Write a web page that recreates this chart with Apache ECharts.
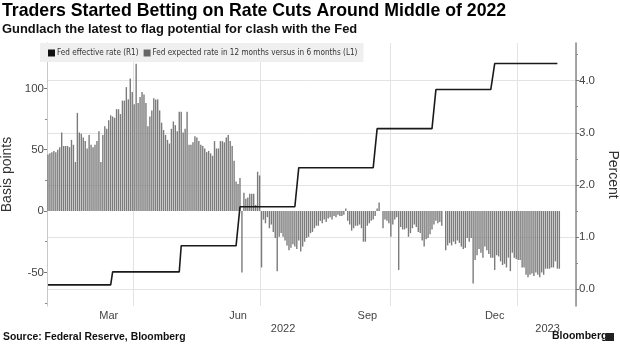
<!DOCTYPE html>
<html><head><meta charset="utf-8">
<script src="https://cdn.jsdelivr.net/npm/echarts@6/dist/echarts.min.js"></script>
<style>html,body{margin:0;padding:0;background:#fff}#c{width:620px;height:348px}</style>
</head><body><div id="c"></div>
<script>
// ---- data ----
const startDate = '2022-01-31';
const categoryCount = 270; // business days shown on the axis
const spreadValues = [
  46,47,48,49,48,50,52,64,53,53,
  53,52,58,54,40,80,64,63,60,57,
  51,62,54,52,54,57,65,40,62,69,
  67,74,78,77,76,83,83,79,90,90,
  101,91,108,97,87,120,88,93,97,95,
  88,69,77,82,92,91,91,82,72,66,
  62,58,55,67,73,70,65,81,81,64,
  67,81,54,54,56,61,60,57,54,53,
  51,48,49,47,45,57,51,51,57,57,
  56,60,62,57,53,
  41,24,22,27,
  -50,15,10,11,14,14,14,5,32,29,
  -46,-7,-10,-5,-14,-11,-17,-22,
  -49,
  -21,-18,-21,-24,-28,-32,-30,-27,-29,-31,
  -24,-33,-29,-25,-22,-21,-18,-17,-14,-12,
  -12,-8,-10,-7,-9,-6,-5,-7,-4,-5,
  -3,-4,-4,-3,2,-8,-11,-16,-14,-12,
  -12,-11,-14,-25,-25,-12,-10,-8,-7,-4,
  2,7,0,-14,-7,-8,-10,-21,-11,-7,-5,
  -48,
  -13,-15,-15,-14,-21,-18,-14,-11,-13,-17,
  -18,-24,-29,-23,-22,-19,-15,-11,-8,-10,
  -9,-12,null,-32,-28,-26,-28,-25,-27,-24,
  -26,-29,-31,-30,-22,-25,-22,
  -59,
  -40,-36,-31,-34,-38,-29,-32,-35,-38,-38,
  -48,-36,-37,-41,-44,-43,-46,-38,-49,-34,
  -38,-39,-40,-40,-46,-46,-52,-54,-52,-51,
  -53,-50,-52,-54,-50,-52,-47,-47,-47,-46,
  -46,-41,-47,-47
];
const rateChangeDates = ['2022-01-31','2022-03-17','2022-05-05','2022-06-16','2022-07-28','2022-09-22','2022-11-03','2022-12-15'];
const rateLevels = [0.08,0.33,0.83,1.58,2.33,3.08,3.83,4.33];
const rateEndDate = '2023-01-30';
const monthLabelDates = ['2022-03-15','2022-06-15','2022-09-15','2022-12-15'];
const monthLabelTexts = ['Mar','Jun','Sep','Dec'];
const quarterStartMonths = [4,7,10,1];
const leftTicks = [-50,0,50,100];
const leftMinorTicks = [-75,-25,25,75,125];
const rightTicks = [0,1,2,3,4];
const rightMinorTicks = [0.5,1.5,2.5,3.5,4.5];
const leftRange = [-77.4, 136.95];
const rightRange = [-0.326, 4.724];

// ---- build ----
function buildBusinessDays(start, count){
  const out=[]; const d=new Date(start+'T00:00:00Z');
  while(out.length<count){
    const wd=d.getUTCDay();
    if(wd!==0&&wd!==6) out.push(d.toISOString().slice(0,10));
    d.setUTCDate(d.getUTCDate()+1);
  }
  return out;
}
const categories = buildBusinessDays(startDate, categoryCount);
const barData = categories.map((c,i)=> i<spreadValues.length ? spreadValues[i] : null);
const rateData = categories.map(c=>{
  if(c>rateEndDate) return null;
  let v=null;
  for(let i=0;i<rateChangeDates.length;i++) if(c>=rateChangeDates[i]) v=rateLevels[i];
  return v;
});
const quarterIdx = new Set();
categories.forEach((c,i)=>{
  if(i===0) return;
  const m=+c.slice(5,7), pm=+categories[i-1].slice(5,7);
  if(m!==pm && quarterStartMonths.indexOf(m)>=0) quarterIdx.add(i);
});
const monthMap = {};
monthLabelDates.forEach((d,i)=>monthMap[d]=monthLabelTexts[i]);
// year labels centred on each year's visible span
const yearCenters = {};
(function(){
  const spans={};
  categories.forEach((c,i)=>{const y=c.slice(0,4); if(!spans[y]) spans[y]=[i,i]; spans[y][1]=i+1;});
  Object.keys(spans).forEach(y=>{yearCenters[Math.round((spans[y][0]+spans[y][1])/2 - 0.5)] = y;});
})();

const sans = '"Liberation Sans", Arial, sans-serif';
const narrow = '"DejaVu Sans Condensed", "Liberation Sans", sans-serif';
const gridColor = '#e3e3e3';

const chart = echarts.init(document.getElementById('c'), null, {renderer:'canvas'});
chart.setOption({
  animation:false,
  backgroundColor:'#fff',
  grid:{left:47, right:44, top:43, bottom:42, containLabel:false, outerBoundsMode:'none'},
  legend:{
    left:40, top:43, orient:'horizontal',
    backgroundColor:'#efefef', padding:[6,6,5,8],
    icon:'rect', itemWidth:7, itemHeight:7, itemGap:5,
    textStyle:{fontFamily:narrow, fontSize:8.1, color:'#333', padding:[0,0,0,-3]},
    data:[
      {name:'Fed effective rate (R1)', itemStyle:{color:'#111'}},
      {name:'Fed expected rate in 12 months versus in 6 months (L1)', itemStyle:{color:'#666'}}
    ]
  },
  xAxis:[{
    type:'category', data:categories, boundaryGap:true,
    axisLine:{show:false}, axisTick:{show:false},
    axisLabel:{interval:(i,v)=>monthMap[v]!==undefined, formatter:v=>monthMap[v]||'',
      color:'#444', fontFamily:sans, fontSize:11, margin:4},
    splitLine:{show:true, interval:(i)=>quarterIdx.has(i), lineStyle:{color:gridColor, width:1}}
  },{
    type:'category', data:categories, boundaryGap:true, position:'bottom', offset:13,
    axisLine:{show:false}, axisTick:{show:false}, splitLine:{show:false},
    axisLabel:{interval:(i)=>yearCenters[i]!==undefined, formatter:(v,i)=>yearCenters[i]||'',
      color:'#444', fontFamily:sans, fontSize:11, margin:4}
  }],
  yAxis:[{
    type:'value', position:'left', min:leftRange[0], max:leftRange[1],
    name:'Basis points', nameLocation:'middle', nameGap:27, nameRotate:90,
    nameTextStyle:{fontFamily:sans, fontSize:14, color:'#333'},
    axisLine:{show:true, lineStyle:{color:'#c8c8c8', width:1}},
    axisTick:{show:true, length:3, customValues:leftTicks, lineStyle:{color:'#777'}},
    axisLabel:{customValues:leftTicks, color:'#444', fontFamily:sans, fontSize:11.5, margin:3},
    splitLine:{show:false}
  },{
    type:'value', position:'right', min:rightRange[0], max:rightRange[1],
    name:'Percent', nameLocation:'middle', nameGap:26, nameRotate:-90,
    nameTextStyle:{fontFamily:sans, fontSize:14, color:'#333'},
    axisLine:{show:true, lineStyle:{color:'#8a8a8a', width:1.5}},
    axisTick:{show:true, length:3, customValues:rightTicks, lineStyle:{color:'#777'}},
    axisLabel:{customValues:rightTicks, formatter:v=>v.toFixed(1), color:'#444', fontFamily:sans, fontSize:11.5, margin:3},
    splitLine:{show:true, lineStyle:{color:gridColor, width:1}}
  },{
    type:'value', position:'right', min:rightRange[0], max:rightRange[1],
    axisLine:{show:false}, axisLabel:{show:false}, splitLine:{show:false},
    axisTick:{show:true, length:2, customValues:rightMinorTicks, lineStyle:{color:'#888'}}
  },{
    type:'value', position:'left', min:leftRange[0], max:leftRange[1],
    axisLine:{show:false}, axisLabel:{show:false}, splitLine:{show:false},
    axisTick:{show:true, length:2, customValues:leftMinorTicks, lineStyle:{color:'#888'}}
  }],
  series:[{
    name:'Fed expected rate in 12 months versus in 6 months (L1)', type:'bar',
    xAxisIndex:0, yAxisIndex:0, data:barData, barWidth:1.4,
    itemStyle:{color:'#7b7b7b'}, z:2
  },{
    name:'Fed effective rate (R1)', type:'line',
    xAxisIndex:0, yAxisIndex:1, data:rateData, showSymbol:false, symbol:'none',
    lineStyle:{color:'#1a1a1a', width:1.6}, itemStyle:{color:'#111'}, z:3
  }],
  graphic:[
    {type:'text', left:2, top:2, style:{text:'Traders Started Betting on Rate Cuts Around Middle of 2022', fontFamily:sans, fontSize:17.7, fontWeight:'bold', fill:'#000'}},
    {type:'text', left:2, top:23, style:{text:'Gundlach the latest to flag potential for clash with the Fed', fontFamily:sans, fontSize:12.9, fontWeight:'bold', fill:'#111'}},
    {type:'text', left:3, top:332, style:{text:'Source: Federal Reserve, Bloomberg', fontFamily:sans, fontSize:10.4, fontWeight:'bold', fill:'#111'}},
    {type:'text', left:552, top:331, style:{text:'Bloomberg', fontFamily:sans, fontSize:10.5, fontWeight:'bold', fill:'#111'}},
    {type:'rect', left:606, top:333, shape:{width:8, height:8}, style:{fill:'#222'}}
  ]
});
</script>
</body></html>
